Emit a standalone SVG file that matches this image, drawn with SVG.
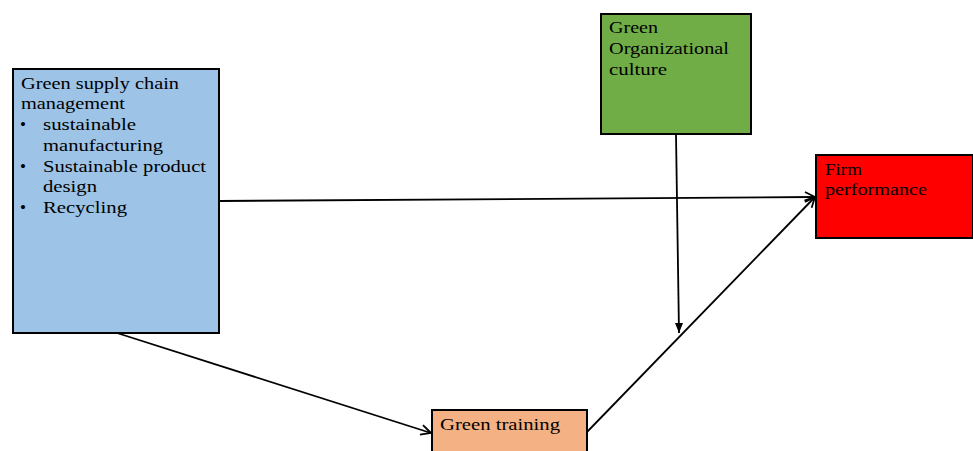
<svg xmlns="http://www.w3.org/2000/svg" width="973" height="451" viewBox="0 0 973 451">
<defs>
<style>
.box{stroke:#000;stroke-width:2}
.t{font-family:"Liberation Serif","Times New Roman",serif;font-size:17px;fill:#000}
.c{stroke:#000;stroke-width:1.8;fill:none}
</style>
<marker id="open" markerWidth="14" markerHeight="14" viewBox="0 0 14 14" refX="13" refY="7" orient="auto" markerUnits="userSpaceOnUse">
<path d="M3,2 L13,7 L3,12" fill="none" stroke="#000" stroke-width="1.8"/>
</marker>
<marker id="fill" markerWidth="10" markerHeight="12" viewBox="0 0 10 12" refX="5" refY="11" orient="0" markerUnits="userSpaceOnUse">
<path d="M1,1 L9,1 L5,11 Z" fill="#000"/>
</marker>
</defs>
<rect width="973" height="451" fill="#fff"/>
<g id="connectors">
<line class="c" x1="219" y1="201" x2="815" y2="197" marker-end="url(#open)"/>
<line class="c" x1="117" y1="333" x2="431" y2="433" marker-end="url(#open)"/>
<line class="c" x1="587" y1="432" x2="815" y2="197" marker-end="url(#open)"/>
<line class="c" x1="676" y1="134" x2="679" y2="333" marker-end="url(#fill)"/>
</g>
<g id="gscm">
<rect class="box" x="13" y="69" width="206" height="264" fill="#9dc3e6"/>
<text class="t" x="21" y="89" textLength="158" lengthAdjust="spacingAndGlyphs">Green supply chain</text>
<text class="t" x="21" y="109" textLength="104" lengthAdjust="spacingAndGlyphs">management</text>
<text class="t" x="20" y="130">•</text>
<text class="t" x="43" y="130" textLength="93" lengthAdjust="spacingAndGlyphs">sustainable</text>
<text class="t" x="43" y="151" textLength="120" lengthAdjust="spacingAndGlyphs">manufacturing</text>
<text class="t" x="20" y="172">•</text>
<text class="t" x="43" y="172" textLength="163" lengthAdjust="spacingAndGlyphs">Sustainable product</text>
<text class="t" x="43" y="192" textLength="54" lengthAdjust="spacingAndGlyphs">design</text>
<text class="t" x="20" y="213">•</text>
<text class="t" x="43" y="213" textLength="84" lengthAdjust="spacingAndGlyphs">Recycling</text>
</g>
<g id="culture">
<rect class="box" x="601" y="14" width="150" height="120" fill="#70ad47"/>
<text class="t" x="609" y="33" textLength="49" lengthAdjust="spacingAndGlyphs">Green</text>
<text class="t" x="609" y="54" textLength="120" lengthAdjust="spacingAndGlyphs">Organizational</text>
<text class="t" x="609" y="75" textLength="58" lengthAdjust="spacingAndGlyphs">culture</text>
</g>
<g id="performance">
<rect class="box" x="816" y="155" width="157" height="83" fill="#ff0000"/>
<text class="t" x="825" y="175" textLength="37" lengthAdjust="spacingAndGlyphs">Firm</text>
<text class="t" x="825" y="195" textLength="102" lengthAdjust="spacingAndGlyphs">performance</text>
</g>
<g id="training">
<rect class="box" x="432" y="410" width="155" height="50" fill="#f4b183"/>
<text class="t" x="440" y="430" textLength="120" lengthAdjust="spacingAndGlyphs">Green training</text>
</g>
</svg>
